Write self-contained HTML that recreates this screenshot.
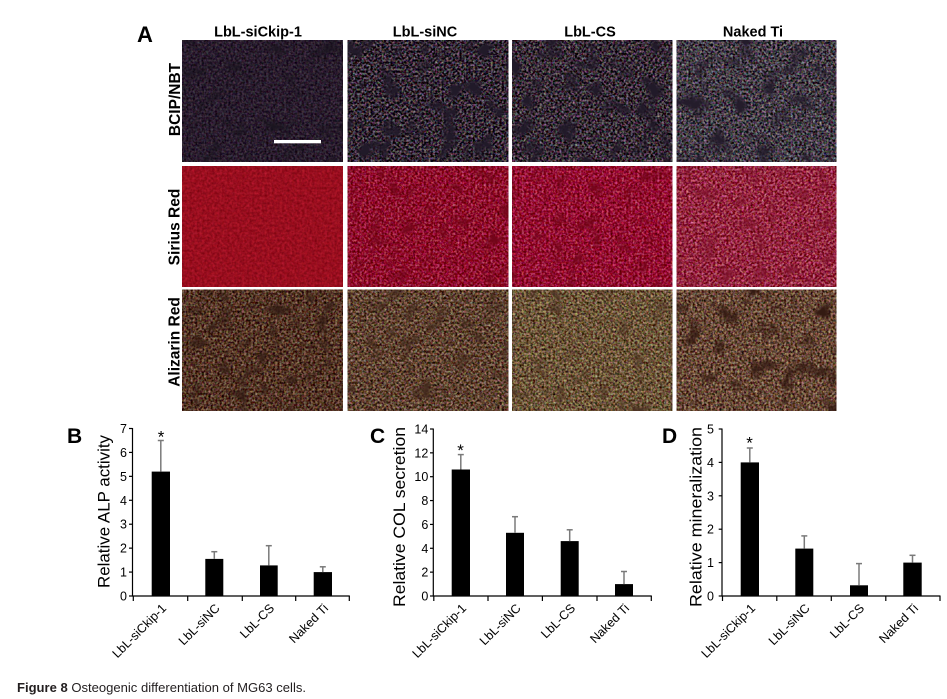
<!DOCTYPE html>
<html><head><meta charset="utf-8"><style>
html,body{margin:0;padding:0;background:#fff;}
svg{display:block;font-family:"Liberation Sans",Arial,sans-serif;}
</style></head><body>
<svg width="947" height="699" viewBox="0 0 947 699" xmlns="http://www.w3.org/2000/svg">
<defs>
<!-- row 1 BCIP/NBT -->
<filter id="t11" x="0" y="0" width="1" height="1" color-interpolation-filters="sRGB">
 <feTurbulence type="fractalNoise" baseFrequency="0.45" numOctaves="2" seed="3" result="hi"/>
 <feColorMatrix in="hi" type="matrix" values="0.35 0.15 0 0 -0.09  0.35 0 0.15 0 -0.14  0.35 0 0 0.15 -0.075  0 0 0 0 1" result="hc"/>
 <feTurbulence type="fractalNoise" baseFrequency="0.05" numOctaves="3" seed="7" result="lo"/>
 <feColorMatrix in="lo" type="matrix" values="0 0 0 0 0.1  0 0 0 0 0.08  0 0 0 0 0.12  -3 0 0 0 1.3" result="lc"/>
 <feComposite in="lc" in2="hc" operator="over"/>
</filter>
<filter id="t12" x="0" y="0" width="1" height="1" color-interpolation-filters="sRGB">
 <feTurbulence type="fractalNoise" baseFrequency="0.45" numOctaves="2" seed="11" result="hi"/>
 <feColorMatrix in="hi" type="matrix" values="1.0 0.45 0 0 -0.52  1.0 0 0.45 0 -0.57  1.0 0 0 0.45 -0.52  0 0 0 0 1" result="hc"/>
 <feTurbulence type="fractalNoise" baseFrequency="0.05" numOctaves="3" seed="5" result="lo"/>
 <feColorMatrix in="lo" type="matrix" values="0 0 0 0 0.13  0 0 0 0 0.1  0 0 0 0 0.16  -4 0 0 0 1.9" result="lc"/>
 <feComposite in="lc" in2="hc" operator="over"/>
</filter>
<filter id="t13" x="0" y="0" width="1" height="1" color-interpolation-filters="sRGB">
 <feTurbulence type="fractalNoise" baseFrequency="0.45" numOctaves="2" seed="21" result="hi"/>
 <feColorMatrix in="hi" type="matrix" values="1.0 0.45 0 0 -0.505  1.0 0 0.45 0 -0.555  1.0 0 0 0.45 -0.51  0 0 0 0 1" result="hc"/>
 <feTurbulence type="fractalNoise" baseFrequency="0.05" numOctaves="3" seed="15" result="lo"/>
 <feColorMatrix in="lo" type="matrix" values="0 0 0 0 0.13  0 0 0 0 0.1  0 0 0 0 0.16  -4 0 0 0 1.9" result="lc"/>
 <feComposite in="lc" in2="hc" operator="over"/>
</filter>
<filter id="t14" x="0" y="0" width="1" height="1" color-interpolation-filters="sRGB">
 <feTurbulence type="fractalNoise" baseFrequency="0.45" numOctaves="2" seed="31" result="hi"/>
 <feColorMatrix in="hi" type="matrix" values="1.0 0.45 0 0 -0.46  1.0 0 0.45 0 -0.49  1.0 0 0 0.45 -0.45  0 0 0 0 1" result="hc"/>
 <feTurbulence type="fractalNoise" baseFrequency="0.045" numOctaves="3" seed="25" result="lo"/>
 <feColorMatrix in="lo" type="matrix" values="0 0 0 0 0.14  0 0 0 0 0.11  0 0 0 0 0.17  -4 0 0 0 1.85" result="lc"/>
 <feComposite in="lc" in2="hc" operator="over"/>
</filter>
<!-- row 2 Sirius Red -->
<filter id="t21" x="0" y="0" width="1" height="1" color-interpolation-filters="sRGB">
 <feTurbulence type="fractalNoise" baseFrequency="0.4" numOctaves="2" seed="41" result="hi"/>
 <feColorMatrix in="hi" type="matrix" values="0.3 0.1 0 0 0.4  0.12 0 0.05 0 -0.03  0.15 0 0 0.05 0.02  0 0 0 0 1"/>
</filter>
<filter id="t22" x="0" y="0" width="1" height="1" color-interpolation-filters="sRGB">
 <feTurbulence type="fractalNoise" baseFrequency="0.45" numOctaves="2" seed="51" result="hi"/>
 <feColorMatrix in="hi" type="matrix" values="0.7 0.3 0 0 0.06  0.8 0 0.35 0 -0.53  0.8 0 0 0.35 -0.4  0 0 0 0 1" result="hc"/>
 <feTurbulence type="fractalNoise" baseFrequency="0.06" numOctaves="3" seed="55" result="lo"/>
 <feColorMatrix in="lo" type="matrix" values="0 0 0 0 0.45  0 0 0 0 0.02  0 0 0 0 0.1  -3 0 0 0 1.35" result="lc"/>
 <feComposite in="lc" in2="hc" operator="over"/>
</filter>
<filter id="t23" x="0" y="0" width="1" height="1" color-interpolation-filters="sRGB">
 <feTurbulence type="fractalNoise" baseFrequency="0.45" numOctaves="2" seed="61" result="hi"/>
 <feColorMatrix in="hi" type="matrix" values="0.7 0.3 0 0 0.08  0.8 0 0.35 0 -0.53  0.8 0 0 0.35 -0.38  0 0 0 0 1" result="hc"/>
 <feTurbulence type="fractalNoise" baseFrequency="0.06" numOctaves="3" seed="65" result="lo"/>
 <feColorMatrix in="lo" type="matrix" values="0 0 0 0 0.45  0 0 0 0 0.02  0 0 0 0 0.1  -3 0 0 0 1.35" result="lc"/>
 <feComposite in="lc" in2="hc" operator="over"/>
</filter>
<filter id="t24" x="0" y="0" width="1" height="1" color-interpolation-filters="sRGB">
 <feTurbulence type="fractalNoise" baseFrequency="0.45" numOctaves="2" seed="71" result="hi"/>
 <feColorMatrix in="hi" type="matrix" values="0.8 0.3 0 0 0.03  0.9 0 0.4 0 -0.5  0.9 0 0 0.4 -0.4  0 0 0 0 1" result="hc"/>
 <feTurbulence type="fractalNoise" baseFrequency="0.06" numOctaves="3" seed="75" result="lo"/>
 <feColorMatrix in="lo" type="matrix" values="0 0 0 0 0.5  0 0 0 0 0.08  0 0 0 0 0.18  -3 0 0 0 1.3" result="lc"/>
 <feComposite in="lc" in2="hc" operator="over"/>
</filter>
<!-- row 3 Alizarin Red -->
<filter id="t31" x="0" y="0" width="1" height="1" color-interpolation-filters="sRGB">
 <feTurbulence type="fractalNoise" baseFrequency="0.45" numOctaves="2" seed="81" result="hi"/>
 <feColorMatrix in="hi" type="matrix" values="0.8 0.3 0 0 -0.22  0.8 0 0.3 0 -0.34  0.7 0 0 0.3 -0.35  0 0 0 0 1" result="hc"/>
 <feTurbulence type="fractalNoise" baseFrequency="0.06" numOctaves="3" seed="85" result="lo"/>
 <feColorMatrix in="lo" type="matrix" values="0 0 0 0 0.2  0 0 0 0 0.11  0 0 0 0 0.08  -3 0 0 0 1.35" result="lc"/>
 <feComposite in="lc" in2="hc" operator="over"/>
</filter>
<filter id="t32" x="0" y="0" width="1" height="1" color-interpolation-filters="sRGB">
 <feTurbulence type="fractalNoise" baseFrequency="0.45" numOctaves="2" seed="91" result="hi"/>
 <feColorMatrix in="hi" type="matrix" values="0.9 0.35 0 0 -0.25  0.9 0 0.35 0 -0.36  0.8 0 0 0.35 -0.38  0 0 0 0 1" result="hc"/>
 <feTurbulence type="fractalNoise" baseFrequency="0.06" numOctaves="3" seed="95" result="lo"/>
 <feColorMatrix in="lo" type="matrix" values="0 0 0 0 0.26  0 0 0 0 0.16  0 0 0 0 0.11  -3 0 0 0 1.35" result="lc"/>
 <feComposite in="lc" in2="hc" operator="over"/>
</filter>
<filter id="t33" x="0" y="0" width="1" height="1" color-interpolation-filters="sRGB">
 <feTurbulence type="fractalNoise" baseFrequency="0.45" numOctaves="2" seed="101" result="hi"/>
 <feColorMatrix in="hi" type="matrix" values="0.9 0.35 0 0 -0.2  0.9 0 0.35 0 -0.29  0.8 0 0 0.35 -0.35  0 0 0 0 1" result="hc"/>
 <feTurbulence type="fractalNoise" baseFrequency="0.06" numOctaves="3" seed="105" result="lo"/>
 <feColorMatrix in="lo" type="matrix" values="0 0 0 0 0.3  0 0 0 0 0.2  0 0 0 0 0.14  -3 0 0 0 1.3" result="lc"/>
 <feComposite in="lc" in2="hc" operator="over"/>
</filter>
<filter id="t34" x="0" y="0" width="1" height="1" color-interpolation-filters="sRGB">
 <feTurbulence type="fractalNoise" baseFrequency="0.45" numOctaves="2" seed="111" result="hi"/>
 <feColorMatrix in="hi" type="matrix" values="0.9 0.35 0 0 -0.22  0.9 0 0.35 0 -0.34  0.8 0 0 0.35 -0.36  0 0 0 0 1" result="hc"/>
 <feTurbulence type="fractalNoise" baseFrequency="0.05" numOctaves="3" seed="115" result="lo"/>
 <feColorMatrix in="lo" type="matrix" values="0 0 0 0 0.2  0 0 0 0 0.1  0 0 0 0 0.07  -3.5 0 0 0 1.6" result="lc"/>
 <feComposite in="lc" in2="hc" operator="over"/>
</filter>
</defs>

<!-- Panel A -->
<text x="137" y="42" font-size="22" font-weight="bold">A</text>
<g font-size="14.5" font-weight="bold" text-anchor="middle">
<text x="258" y="36.5">LbL-siCkip-1</text>
<text x="425" y="36.5">LbL-siNC</text>
<text x="590" y="36.5">LbL-CS</text>
<text x="753" y="36.5">Naked Ti</text>
</g>
<g font-size="15.5" font-weight="bold" text-anchor="middle">
<text transform="translate(180,99.5) rotate(-90)">BCIP/NBT</text>
<text transform="translate(179.5,227) rotate(-90)">Sirius Red</text>
<text transform="translate(179.5,342) rotate(-90)">Alizarin Red</text>
</g>

<!-- row 1 -->
<rect x="182.3" y="40" width="160.4" height="122" fill="#2b2333" filter="url(#t11)"/>
<rect x="347.7" y="40" width="160.4" height="122" fill="#453f50" filter="url(#t12)"/>
<rect x="512.3" y="40" width="160" height="122" fill="#4a4553" filter="url(#t13)"/>
<rect x="676.7" y="40" width="159.5" height="122" fill="#58535f" filter="url(#t14)"/>
<rect x="274" y="140" width="47" height="3.3" fill="#fff"/>

<!-- row 2 -->
<rect x="182.3" y="166" width="160.4" height="120.7" fill="#9c0e1d" filter="url(#t21)"/>
<rect x="347.7" y="166" width="160.4" height="120.7" fill="#a81f42" filter="url(#t22)"/>
<rect x="512.3" y="166" width="160" height="120.7" fill="#ad2046" filter="url(#t23)"/>
<rect x="676.7" y="166" width="159.5" height="120.7" fill="#b5385c" filter="url(#t24)"/>

<!-- row 3 -->
<rect x="182.3" y="289.5" width="160.4" height="121.2" fill="#5f4030" filter="url(#t31)"/>
<rect x="347.7" y="289.5" width="160.4" height="121.2" fill="#7a6250" filter="url(#t32)"/>
<rect x="512.3" y="289.5" width="160" height="121.2" fill="#8a7a5c" filter="url(#t33)"/>
<rect x="676.7" y="289.5" width="159.5" height="121.2" fill="#6a4c3c" filter="url(#t34)"/>

<!-- ===== Chart B ===== -->
<text x="67" y="443" font-size="21" font-weight="bold">B</text>
<text transform="translate(109.5,511.5) rotate(-90)" font-size="16.5" text-anchor="middle" textLength="153" lengthAdjust="spacingAndGlyphs">Relative ALP activity</text>
<g stroke="#000" stroke-width="1.2" fill="none">
<line x1="132.5" y1="428" x2="132.5" y2="596.5"/>
<line x1="132" y1="596" x2="349.8" y2="596"/>
<line x1="129" y1="596" x2="132.5" y2="596"/>
<line x1="129" y1="572.07" x2="132.5" y2="572.07"/>
<line x1="129" y1="548.14" x2="132.5" y2="548.14"/>
<line x1="129" y1="524.21" x2="132.5" y2="524.21"/>
<line x1="129" y1="500.28" x2="132.5" y2="500.28"/>
<line x1="129" y1="476.35" x2="132.5" y2="476.35"/>
<line x1="129" y1="452.42" x2="132.5" y2="452.42"/>
<line x1="129" y1="428.5" x2="132.5" y2="428.5"/>
<line x1="133.3" y1="596" x2="133.3" y2="601"/>
<line x1="187.7" y1="596" x2="187.7" y2="601"/>
<line x1="242.3" y1="596" x2="242.3" y2="601"/>
<line x1="295.7" y1="596" x2="295.7" y2="601"/>
<line x1="349.3" y1="596" x2="349.3" y2="601"/>
</g>
<g font-size="12.5" text-anchor="end">
<text x="127" y="600.5">0</text>
<text x="127" y="576.6">1</text>
<text x="127" y="552.6">2</text>
<text x="127" y="528.7">3</text>
<text x="127" y="504.8">4</text>
<text x="127" y="480.9">5</text>
<text x="127" y="456.9">6</text>
<text x="127" y="433">7</text>
</g>
<g fill="#000">
<rect x="151.7" y="471.6" width="18.3" height="124.4"/>
<rect x="205.3" y="558.9" width="18" height="37.1"/>
<rect x="260" y="565.4" width="17.7" height="30.6"/>
<rect x="313.7" y="572.1" width="18.3" height="23.9"/>
</g>
<g stroke="#7a7a7a" stroke-width="1.5">
<line x1="160.8" y1="471.6" x2="160.8" y2="440.5"/><line x1="157.8" y1="440.5" x2="163.8" y2="440.5"/>
<line x1="214.3" y1="558.9" x2="214.3" y2="551.7"/><line x1="211.3" y1="551.7" x2="217.3" y2="551.7"/>
<line x1="268.8" y1="565.4" x2="268.8" y2="545.7"/><line x1="265.8" y1="545.7" x2="271.8" y2="545.7"/>
<line x1="322.8" y1="572.1" x2="322.8" y2="566.8"/><line x1="319.8" y1="566.8" x2="325.8" y2="566.8"/>
</g>
<text x="161" y="442.5" font-size="17" text-anchor="middle">*</text>
<g font-size="12.5" text-anchor="end">
<text transform="translate(167,609) rotate(-45)">LbL-siCkip-1</text>
<text transform="translate(220.5,609) rotate(-45)">LbL-siNC</text>
<text transform="translate(275,609) rotate(-45)">LbL-CS</text>
<text transform="translate(329,609) rotate(-45)">Naked Ti</text>
</g>

<!-- ===== Chart C ===== -->
<text x="370" y="443" font-size="21" font-weight="bold">C</text>
<text transform="translate(405,517) rotate(-90)" font-size="17" text-anchor="middle" textLength="180" lengthAdjust="spacingAndGlyphs">Relative COL secretion</text>
<g stroke="#000" stroke-width="1.2" fill="none">
<line x1="433.3" y1="428.5" x2="433.3" y2="596.5"/>
<line x1="432.8" y1="596" x2="651.8" y2="596"/>
<line x1="430" y1="596" x2="433.3" y2="596"/>
<line x1="430" y1="572.14" x2="433.3" y2="572.14"/>
<line x1="430" y1="548.28" x2="433.3" y2="548.28"/>
<line x1="430" y1="524.42" x2="433.3" y2="524.42"/>
<line x1="430" y1="500.56" x2="433.3" y2="500.56"/>
<line x1="430" y1="476.7" x2="433.3" y2="476.7"/>
<line x1="430" y1="452.84" x2="433.3" y2="452.84"/>
<line x1="430" y1="429" x2="433.3" y2="429"/>
<line x1="433.8" y1="596" x2="433.8" y2="601"/>
<line x1="488" y1="596" x2="488" y2="601"/>
<line x1="542.4" y1="596" x2="542.4" y2="601"/>
<line x1="597" y1="596" x2="597" y2="601"/>
<line x1="651.3" y1="596" x2="651.3" y2="601"/>
</g>
<g font-size="12.5" text-anchor="end">
<text x="428.3" y="600.5">0</text>
<text x="428.3" y="576.6">2</text>
<text x="428.3" y="552.8">4</text>
<text x="428.3" y="528.9">6</text>
<text x="428.3" y="505.1">8</text>
<text x="428.3" y="481.2">10</text>
<text x="428.3" y="457.3">12</text>
<text x="428.3" y="433.5">14</text>
</g>
<g fill="#000">
<rect x="451.7" y="469.5" width="18.3" height="126.5"/>
<rect x="506" y="532.8" width="18" height="63.2"/>
<rect x="560.7" y="541.1" width="18" height="54.9"/>
<rect x="615" y="584.1" width="18" height="11.9"/>
</g>
<g stroke="#7a7a7a" stroke-width="1.5">
<line x1="460.8" y1="469.5" x2="460.8" y2="454.6"/><line x1="457.8" y1="454.6" x2="463.8" y2="454.6"/>
<line x1="515" y1="532.8" x2="515" y2="516.7"/><line x1="512" y1="516.7" x2="518" y2="516.7"/>
<line x1="569.7" y1="541.1" x2="569.7" y2="529.8"/><line x1="566.7" y1="529.8" x2="572.7" y2="529.8"/>
<line x1="624" y1="584.1" x2="624" y2="571.5"/><line x1="621" y1="571.5" x2="627" y2="571.5"/>
</g>
<text x="460.5" y="456" font-size="17" text-anchor="middle">*</text>
<g font-size="12.5" text-anchor="end">
<text transform="translate(467,609) rotate(-45)">LbL-siCkip-1</text>
<text transform="translate(521.5,609) rotate(-45)">LbL-siNC</text>
<text transform="translate(576,609) rotate(-45)">LbL-CS</text>
<text transform="translate(630,609) rotate(-45)">Naked Ti</text>
</g>

<!-- ===== Chart D ===== -->
<text x="662" y="443" font-size="21" font-weight="bold">D</text>
<text transform="translate(701.5,517) rotate(-90)" font-size="17" text-anchor="middle" textLength="180" lengthAdjust="spacingAndGlyphs">Relative mineralization</text>
<g stroke="#000" stroke-width="1.2" fill="none">
<line x1="722" y1="428.5" x2="722" y2="596.5"/>
<line x1="721.5" y1="596" x2="940.5" y2="596"/>
<line x1="718.7" y1="596" x2="722" y2="596"/>
<line x1="718.7" y1="562.6" x2="722" y2="562.6"/>
<line x1="718.7" y1="529.2" x2="722" y2="529.2"/>
<line x1="718.7" y1="495.8" x2="722" y2="495.8"/>
<line x1="718.7" y1="462.4" x2="722" y2="462.4"/>
<line x1="718.7" y1="429" x2="722" y2="429"/>
<line x1="722.5" y1="596" x2="722.5" y2="601"/>
<line x1="776.8" y1="596" x2="776.8" y2="601"/>
<line x1="831.3" y1="596" x2="831.3" y2="601"/>
<line x1="885.8" y1="596" x2="885.8" y2="601"/>
<line x1="940" y1="596" x2="940" y2="601"/>
</g>
<g font-size="12.5" text-anchor="end">
<text x="714" y="600.5">0</text>
<text x="714" y="567.1">1</text>
<text x="714" y="533.7">2</text>
<text x="714" y="500.3">3</text>
<text x="714" y="466.9">4</text>
<text x="714" y="433.5">5</text>
</g>
<g fill="#000">
<rect x="740.7" y="462.4" width="18.3" height="133.6"/>
<rect x="795.3" y="548.6" width="18" height="47.4"/>
<rect x="850" y="585.3" width="18" height="10.7"/>
<rect x="903.3" y="562.6" width="18.4" height="33.4"/>
</g>
<g stroke="#7a7a7a" stroke-width="1.5">
<line x1="749.8" y1="462.4" x2="749.8" y2="448"/><line x1="746.8" y1="448" x2="752.8" y2="448"/>
<line x1="804.3" y1="548.6" x2="804.3" y2="535.9"/><line x1="801.3" y1="535.9" x2="807.3" y2="535.9"/>
<line x1="859" y1="585.3" x2="859" y2="563.6"/><line x1="856" y1="563.6" x2="862" y2="563.6"/>
<line x1="912.5" y1="562.6" x2="912.5" y2="555.3"/><line x1="909.5" y1="555.3" x2="915.5" y2="555.3"/>
</g>
<text x="749.5" y="448.5" font-size="17" text-anchor="middle">*</text>
<g font-size="12.5" text-anchor="end">
<text transform="translate(756,609) rotate(-45)">LbL-siCkip-1</text>
<text transform="translate(810.5,609) rotate(-45)">LbL-siNC</text>
<text transform="translate(865,609) rotate(-45)">LbL-CS</text>
<text transform="translate(919,609) rotate(-45)">Naked Ti</text>
</g>

<!-- caption -->
<text x="17" y="692" font-size="13" fill="#231f20" textLength="289" lengthAdjust="spacingAndGlyphs"><tspan font-weight="bold">Figure 8</tspan> Osteogenic differentiation of MG63 cells.</text>
</svg>
</body></html>
